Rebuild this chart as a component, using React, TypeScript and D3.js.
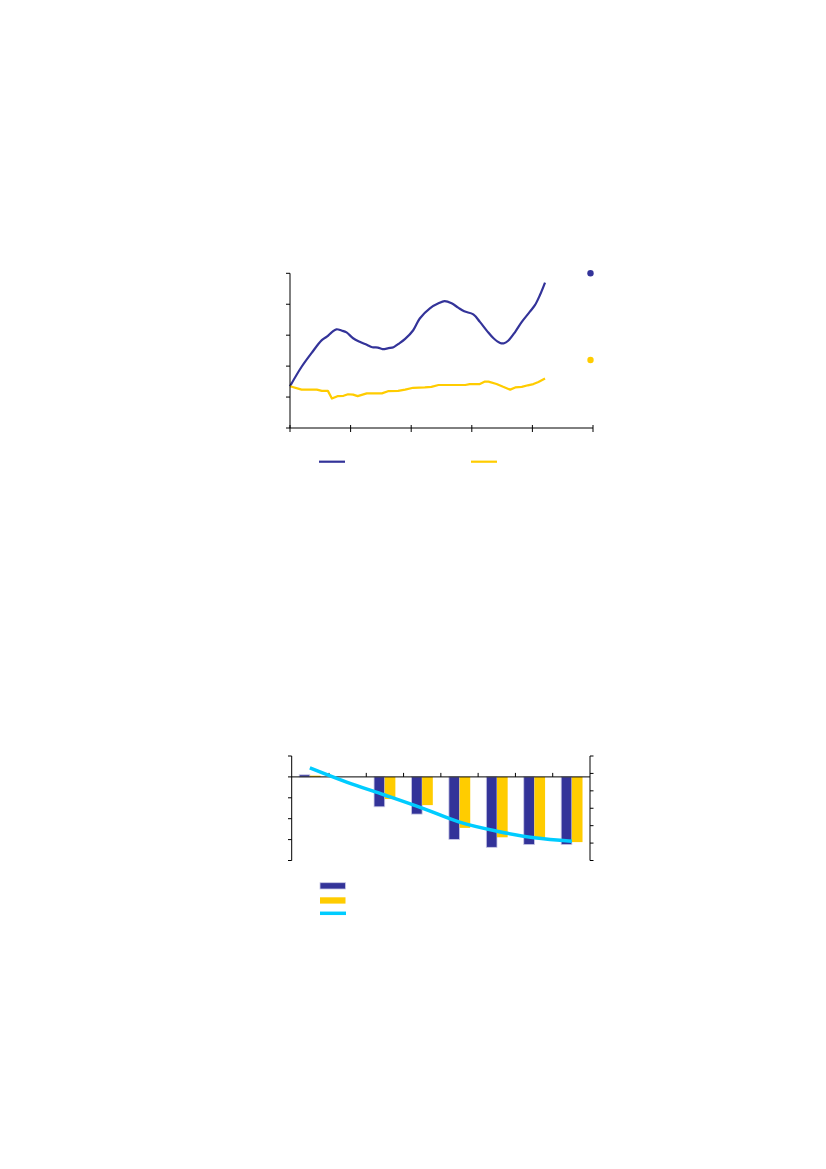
import React from "react";
import * as d3 from "d3";

// ---------- Top chart data (months since start, value) ----------
const blueMonths = [0, 2.3, 4.3, 6.3, 7.3, 8.3, 9.2, 10.2, 11.2, 12.5, 13.9, 15.2, 16.3, 17.4, 18.3, 19.5, 20.5, 21.4, 22.8, 24.4, 25.7, 27.7, 29.4, 30.6, 32.0, 33.3, 34.5, 36.3, 37.6, 39.0, 40.3, 41.6, 42.4, 43.2, 44.6, 45.9, 47.5, 48.5, 49.5, 50.5];
const blueValues = [1.35, 1.98, 2.43, 2.84, 2.95, 3.1, 3.19, 3.15, 3.09, 2.9, 2.78, 2.69, 2.61, 2.6, 2.55, 2.58, 2.61, 2.71, 2.88, 3.16, 3.54, 3.87, 4.03, 4.1, 4.03, 3.89, 3.77, 3.67, 3.43, 3.14, 2.9, 2.75, 2.74, 2.82, 3.11, 3.43, 3.76, 3.97, 4.3, 4.7];

const yellowMonths = [0, 2.3, 5.3, 6.3, 7.5, 8.3, 9.4, 10.6, 11.5, 12.5, 13.4, 15.2, 18.2, 19.4, 21.4, 22.8, 24.4, 26.7, 28.0, 29.4, 34.7, 35.6, 37.6, 38.6, 39.3, 40.9, 42.2, 43.6, 44.6, 45.9, 47.1, 48.2, 49.2, 50.5];
const yellowValues = [1.35, 1.24, 1.24, 1.2, 1.2, 0.95, 1.03, 1.04, 1.09, 1.08, 1.03, 1.12, 1.12, 1.19, 1.2, 1.24, 1.3, 1.31, 1.33, 1.39, 1.39, 1.42, 1.42, 1.5, 1.5, 1.42, 1.33, 1.24, 1.31, 1.33, 1.38, 1.42, 1.49, 1.6];

const topXTicks = [0, 12, 24, 36, 48, 60];
const topYTicks = [0, 1, 2, 3, 4, 5];
const markerValues = [5, 2.2]; // dots at the right edge (blue, yellow)

// ---------- Bottom chart data ----------
const categories = ["1", "2", "3", "4", "5", "6", "7", "8"];
const barBlue: (number | null)[] = [0.1, null, -1.43, -1.78, -2.99, -3.37, -3.24, -3.24];
const barYellow: (number | null)[] = [0.06, null, -1.06, -1.35, -2.44, -2.89, -2.94, -3.12];
const lineCyan = [0.32, -0.51, -1.24, -1.99, -2.8, -3.32, -3.7, -3.89];
const leftTicks = [1, 0, -1, -2, -3, -4];
const rightTicks = [1, 0, -1, -2, -3, -4, -5];

const BLUE = "#333399";
const YELLOW = "#FFCC00";
const CYAN = "#00CCFF";

export default function App() {
  // Top chart scales
  const tx = d3.scaleLinear().domain([0, 60]).range([290, 593]);
  const ty = d3.scaleLinear().domain([0, 5]).range([428, 273.3]);
  const blueLine = d3
    .line<number>()
    .x((_, i) => tx(blueMonths[i]))
    .y((d) => ty(d))
    .curve(d3.curveCatmullRom.alpha(0.5))(blueValues);
  const yellowLine = d3
    .line<number>()
    .x((_, i) => tx(yellowMonths[i]))
    .y((d) => ty(d))(yellowValues);

  // Bottom chart scales
  const bx = d3
    .scaleBand<string>()
    .domain(categories)
    .range([291.7, 590])
    .paddingInner(0.43)
    .paddingOuter(0.2);
  const sub = d3.scaleBand<string>().domain(["a", "b"]).range([0, bx.bandwidth()]);
  const byL = d3.scaleLinear().domain([-4, 1]).range([860.5, 756]);
  const byR = d3.scaleLinear().domain([-5, 1]).range([860.5, 756]);
  const step = (590 - 291.7) / categories.length;
  const cyanPath = d3
    .line<number>()
    .x((_, i) => (bx(categories[i]) as number) + bx.bandwidth() / 2)
    .y((d) => byR(d))
    .curve(d3.curveMonotoneX)(lineCyan);

  return (
    <svg
      width={826}
      height={1169}
      style={{ position: "absolute", left: 0, top: 0, display: "block" }}
    >
      <rect width={826} height={1169} fill="#ffffff" />

      {/* ---------- Top chart ---------- */}
      <g>
        <path d={blueLine || ""} fill="none" stroke={BLUE} strokeWidth={2.2} strokeLinejoin="round" />
        <path d={yellowLine || ""} fill="none" stroke={YELLOW} strokeWidth={2.2} strokeLinejoin="round" />
        {/* axes */}
        <line x1={tx(0)} x2={tx(0)} y1={ty(5)} y2={ty(0)} stroke="#000" strokeWidth={1} />
        <line x1={tx(0)} x2={tx(60)} y1={ty(0)} y2={ty(0)} stroke="#000" strokeWidth={1} />
        {topYTicks.map((t) => (
          <line key={"yt" + t} x1={tx(0) - 4} x2={tx(0)} y1={ty(t)} y2={ty(t)} stroke="#000" strokeWidth={1} />
        ))}
        {topXTicks.map((t) => (
          <line key={"xt" + t} x1={tx(t)} x2={tx(t)} y1={ty(0) - 3} y2={ty(0) + 4} stroke="#000" strokeWidth={1} />
        ))}
        {/* right-side dots */}
        <circle cx={590.5} cy={ty(markerValues[0])} r={3.2} fill={BLUE} />
        <circle cx={590.5} cy={ty(markerValues[1])} r={3.2} fill={YELLOW} />
        {/* legend */}
        <line x1={319} x2={345} y1={461.7} y2={461.7} stroke={BLUE} strokeWidth={2.2} />
        <line x1={471} x2={497} y1={461.7} y2={461.7} stroke={YELLOW} strokeWidth={2.2} />
      </g>

      {/* ---------- Bottom chart ---------- */}
      <g>
        {categories.map((c, i) => {
          const x0 = bx(c) as number;
          const vb = barBlue[i];
          const vy = barYellow[i];
          return (
            <g key={"bar" + c}>
              {vb !== null && (
                <rect
                  x={x0 + (sub("a") as number)}
                  y={byL(Math.max(0, vb))}
                  width={sub.bandwidth()}
                  height={Math.abs(byL(vb) - byL(0))}
                  fill={BLUE}
                  stroke="#c9c9e6"
                  strokeWidth={0.8}
                />
              )}
              {vy !== null && (
                <rect
                  x={x0 + (sub("b") as number)}
                  y={byL(Math.max(0, vy))}
                  width={sub.bandwidth()}
                  height={Math.abs(byL(vy) - byL(0))}
                  fill={YELLOW}
                />
              )}
            </g>
          );
        })}
        {/* zero line & category ticks */}
        <line x1={291.7} x2={590} y1={byL(0)} y2={byL(0)} stroke="#000" strokeWidth={1} />
        {categories.slice(1).map((c, i) => {
          const x = 291.7 + step * (i + 1);
          return <line key={"ct" + c} x1={x} x2={x} y1={byL(0) - 4} y2={byL(0)} stroke="#000" strokeWidth={1} />;
        })}
        <path d={cyanPath || ""} fill="none" stroke={CYAN} strokeWidth={3.5} strokeLinecap="butt" />
        {/* left axis */}
        <line x1={291.7} x2={291.7} y1={756} y2={860.5} stroke="#000" strokeWidth={1} />
        {leftTicks.map((t) => (
          <line key={"lt" + t} x1={288} x2={291.7} y1={byL(t)} y2={byL(t)} stroke="#000" strokeWidth={1} />
        ))}
        {/* right axis */}
        <line x1={590} x2={590} y1={756} y2={860.5} stroke="#000" strokeWidth={1} />
        {rightTicks.map((t) => (
          <line key={"rt" + t} x1={590} x2={593.5} y1={byR(t)} y2={byR(t)} stroke="#000" strokeWidth={1} />
        ))}
        {/* legend */}
        <rect x={320} y={882.7} width={25.5} height={6.3} fill={BLUE} stroke="#c9c9e6" strokeWidth={0.8} />
        <rect x={320} y={897.3} width={25.5} height={6.3} fill={YELLOW} />
        <line x1={320} x2={346} y1={913.3} y2={913.3} stroke={CYAN} strokeWidth={3.5} />
      </g>
    </svg>
  );
}
